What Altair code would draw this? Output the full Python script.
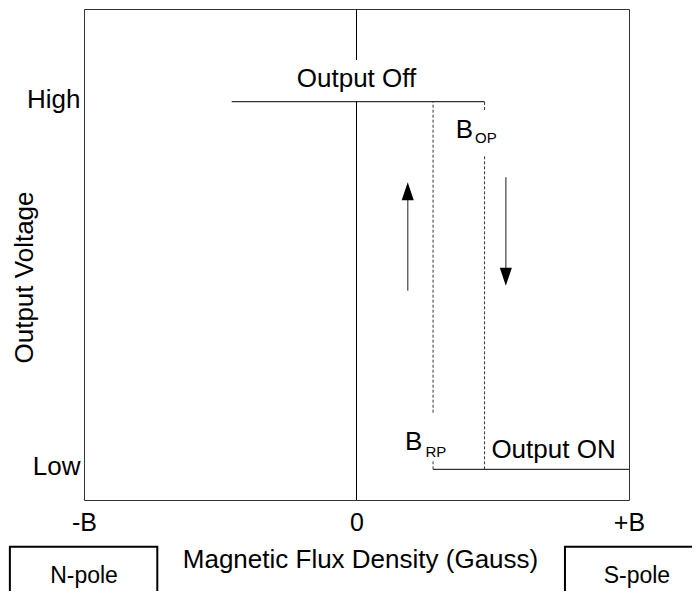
import altair as alt
import pandas as pd

# ---- axis ticks ----
x_tick_values = [-1, 0, 1]
x_tick_labels = ["-B", "0", "+B"]
y_tick_values = [6.25, 81.12]
y_tick_labels = ["Low", "High"]

# ---- solid transfer-curve segments ----
solid_x = [0, 0, -0.458, 0.281]
solid_x2 = [0, 0, 0.470, 1.0]
solid_y = [89.6, 0, 81.12, 6.25]
solid_y2 = [100, 81.12, 81.12, 6.25]

# ---- dashed threshold lines (B_OP, B_RP) ----
dash_x = [0.470, 0.470, 0.281, 0.281]
dash_y = [79.43, 6.25, 17.78, 6.25]
dash_y2 = [81.12, 70.26, 81.12, 8.15]

# ---- arrows ----
arrow_x = [0.188, 0.548]
arrow_tail = [42.63, 65.72]
arrow_head = [62.89, 45.48]
arrow_shape = ["M0,-1L0.67,1L-0.67,1Z", "M-0.67,-1L0.67,-1L0,1Z"]

# ---- annotations ----
label_text = ["Output Off", "B", "OP", "B", "RP", "Output ON"]
label_x = [0, 0.364, 0.435, 0.178, 0.253, 0.495]
label_y = [84.18, 73.79, 72.65, 10.18, 8.82, 8.49]
label_size = [26, 26, 15, 26, 15, 26]
label_align = ["center", "left", "left", "left", "left", "left"]

# ---- pole boxes ----
pole_text = ["N-pole", "S-pole"]
pole_x = [-1.272, 0.765]
pole_x2 = [-0.731, 1.334]
pole_top = [-9.51, -9.51]
pole_bottom = [-22, -22]
pole_text_x = [-1.0, 1.029]
pole_text_y = [-16.97, -16.84]

FONT = "Liberation Sans"

def make_expr(values, labels):
    parts = []
    for v, l in zip(values, labels):
        parts.append(f"abs(datum.value - {v}) < 0.001 ? '{l}' : ")
    return "".join(parts) + "''"

xscale = alt.Scale(domain=[-1, 1], nice=False, zero=False)
yscale = alt.Scale(domain=[0, 100], nice=False, zero=False)

xaxis = alt.Axis(
    values=x_tick_values, labelExpr=make_expr(x_tick_values, x_tick_labels),
    domain=False, ticks=False, grid=False, labelFlush=False,
    labelFontSize=25, labelBaseline="alphabetic", labelPadding=30,
    labelColor="black", labelFont=FONT,
    title="Magnetic Flux Density (Gauss)", titleFontSize=26, titleFontWeight="normal",
    titleFont=FONT, titleColor="black", titleX=276, titleY=67,
    titleAlign="center", titleBaseline="alphabetic",
)
yaxis = alt.Axis(
    values=y_tick_values, labelExpr=make_expr(y_tick_values, y_tick_labels),
    domain=False, ticks=False, grid=False, labelFlush=False,
    labelFontSize=26, labelBaseline="middle", labelAlign="right", labelPadding=4,
    labelOffset=-2.5, labelColor="black", labelFont=FONT,
    title="Output Voltage", titleFontSize=26, titleFontWeight="normal",
    titleFont=FONT, titleColor="black", titleX=-60, titleY=268, titleAngle=270,
    titleAlign="center", titleBaseline="middle",
)

def X(field):
    return alt.X(field, type="quantitative", scale=xscale, axis=xaxis)

def Y(field):
    return alt.Y(field, type="quantitative", scale=yscale, axis=yaxis)

solid_df = pd.DataFrame({"x": solid_x, "x2": solid_x2, "y": solid_y, "y2": solid_y2})
dash_df = pd.DataFrame({"x": dash_x, "y": dash_y, "y2": dash_y2})
arrow_df = pd.DataFrame({"x": arrow_x, "tail": arrow_tail, "head": arrow_head, "shape": arrow_shape})
label_df = pd.DataFrame({"text": label_text, "x": label_x, "y": label_y,
                         "size": label_size, "align": label_align})
pole_df = pd.DataFrame({"text": pole_text, "x": pole_x, "x2": pole_x2, "top": pole_top,
                        "bottom": pole_bottom, "tx": pole_text_x, "ty": pole_text_y})

solid = alt.Chart(solid_df).mark_rule(color="black", strokeWidth=1).encode(
    x=X("x"), x2="x2", y=Y("y"), y2="y2")

dashed = alt.Chart(dash_df).mark_rule(color="#333333", strokeWidth=1, strokeDash=[3, 2]).encode(
    x=X("x"), y=Y("y"), y2="y2")

shafts = alt.Chart(arrow_df).mark_rule(color="#666666", strokeWidth=1.5).encode(
    x=X("x"), y=Y("tail"), y2="head")

heads = alt.Chart(arrow_df).mark_point(filled=True, color="black", opacity=1, size=324).encode(
    x=X("x"), y=Y("head"), shape=alt.Shape("shape:N", scale=None))

text_center = alt.Chart(label_df).transform_filter("datum.align == 'center'").mark_text(
    align="center", baseline="alphabetic", font=FONT, color="black").encode(
    x=X("x"), y=Y("y"), text="text:N", size=alt.Size("size:Q", scale=None))

text_left = alt.Chart(label_df).transform_filter("datum.align == 'left'").mark_text(
    align="left", baseline="alphabetic", font=FONT, color="black").encode(
    x=X("x"), y=Y("y"), text="text:N", size=alt.Size("size:Q", scale=None))

boxes = alt.Chart(pole_df).mark_rect(fill="white", stroke="black", strokeWidth=2, clip=False).encode(
    x=X("x"), x2="x2", y=Y("top"), y2="bottom")

pole_labels = alt.Chart(pole_df).mark_text(
    align="center", baseline="alphabetic", font=FONT, fontSize=23, color="black").encode(
    x=X("tx"), y=Y("ty"), text="text:N")

chart = alt.layer(
    solid, dashed, shafts, heads, text_center, text_left, boxes, pole_labels
).properties(
    width=545, height=491,
    autosize=alt.AutoSizeParams(type="none"),
    padding={"left": 76, "top": 1, "right": 63, "bottom": 91},
).configure(
    font=FONT, background="white"
).configure_view(
    stroke="#333333", strokeWidth=1
)

chart.save("out.html", embed_options={"renderer": "svg", "actions": False})
